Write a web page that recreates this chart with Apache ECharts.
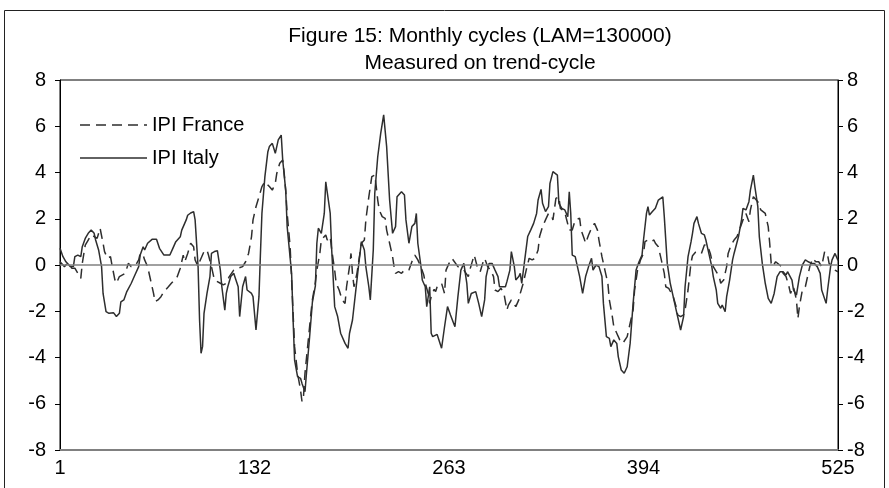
<!DOCTYPE html>
<html>
<head>
<meta charset="utf-8">
<script src="https://cdn.jsdelivr.net/npm/echarts@6/dist/echarts.min.js"></script>
<style>
html,body{margin:0;padding:0;background:#fff;}
#c{width:889px;height:488px;}
</style>
</head>
<body>
<div id="c"></div>
<script>
// ---- data (period index, value) ----
const xTickValues = [1, 132, 263, 394, 525];

const italyT = [1,3,5,8,10,11,13,15,16,18,20,22,24,25,27,29,30,32,34,37,39,41,42,44,46,47,49,51,54,55,57,58,60,63,66,68,71,75,77,79,82,83,86,87,89,91,92,94,95,96,97,98,100,102,103,105,107,108,109,110,112,113,114,116,118,121,122,124,126,127,130,131,133,135,136,137,139,141,142,144,146,148,150,151,153,154,157,158,159,161,163,164,166,167,169,171,173,174,175,177,179,180,181,183,184,186,188,190,193,195,196,198,200,202,204,206,207,209,210,212,213,215,217,219,220,221,223,225,227,228,231,233,234,236,238,240,241,242,244,245,247,248,250,251,252,255,256,258,260,262,264,267,269,271,273,275,276,278,281,283,285,287,288,290,292,294,296,297,298,301,302,304,305,307,308,310,311,312,314,316,318,320,322,323,325,326,328,330,331,333,334,336,337,339,341,343,344,345,346,348,351,353,355,357,359,360,362,364,366,367,369,371,372,374,376,377,379,381,383,385,387,389,391,393,394,396,397,398,400,402,404,405,407,408,410,412,414,416,418,419,421,422,424,426,427,428,430,431,433,435,436,438,440,441,443,444,446,447,449,450,452,454,455,456,458,460,461,463,465,466,468,469,471,472,474,476,478,480,482,484,486,488,490,491,494,495,497,499,501,503,505,507,509,511,513,514,517,518,520,521,523,525];
const italyV = [0.72,0.36,0.14,-0.07,-0.07,0.36,0.43,0.36,0.79,1.15,1.37,1.51,1.37,1.08,0.65,-0.07,-1.23,-2.02,-2.09,-2.06,-2.23,-2.09,-1.59,-1.51,-1.15,-1.15,-0.79,-0.50,-0.07,0.43,0.79,0.65,0.94,1.11,1.11,0.72,0.43,0.43,0.72,1.01,1.22,1.51,1.95,2.15,2.25,2.31,1.95,-0.07,-2.38,-3.82,-3.53,-2.09,-1.23,-0.50,0.50,0.58,0.62,0.58,-0.22,-0.94,-1.95,-1.23,-0.94,-0.50,-0.36,-0.94,-2.23,-0.94,-0.50,-1.08,-1.23,-1.37,-2.81,-1.37,0.50,2.23,3.82,4.90,5.12,5.26,4.83,5.41,5.62,4.54,3.24,1.66,-0.36,-2.38,-4.11,-4.83,-4.90,-5.12,-5.48,-4.68,-3.20,-1.60,-0.90,0.94,1.59,1.37,2.23,3.60,3.53,2.23,0.65,-1.80,-2.23,-2.95,-3.39,-3.60,-2.95,-2.38,-1.23,-0.07,1.01,0.65,-0.07,-0.94,-1.51,0.65,3.10,4.68,5.69,6.49,6.41,5.12,2.81,1.37,1.66,2.95,3.17,3.03,1.95,0.94,1.66,1.80,2.23,0.94,0.00,-0.65,-0.94,-1.80,-0.94,-2.95,-3.10,-3.00,-3.20,-3.60,-2.67,-1.80,-2.16,-2.67,-1.37,-0.22,0.07,-0.79,-1.66,-1.23,-1.15,-1.66,-2.23,-1.51,-0.50,0.07,0.07,-0.22,-0.50,-0.94,-0.86,-0.94,-0.72,-0.22,0.58,-0.07,-0.65,-0.50,-0.36,-0.79,0.22,1.23,1.51,1.80,2.23,2.81,3.27,2.67,2.31,2.52,3.53,4.04,4.11,3.89,2.67,2.45,2.38,2.09,3.17,2.23,0.43,0.36,-0.50,-1.23,-0.50,-0.07,0.29,-0.22,0.00,-0.07,-0.50,-1.66,-3.10,-3.17,-3.53,-3.24,-3.39,-3.96,-4.54,-4.68,-4.40,-3.39,-1.66,-0.22,0.14,0.43,1.08,2.23,2.52,2.16,2.31,2.45,2.81,2.88,2.95,2.09,0.07,-0.79,-1.37,-1.95,-2.52,-2.81,-2.23,-0.94,0.36,1.00,1.37,1.80,2.09,1.80,1.37,1.30,1.08,0.50,-0.07,-0.50,-1.08,-1.66,-1.87,-1.73,-2.02,-1.37,-0.65,0.22,0.50,0.58,1.23,1.95,2.45,2.38,2.74,3.24,3.89,3.39,2.52,1.23,0.07,-0.79,-1.44,-1.66,-1.23,-0.50,-0.29,-0.29,-0.43,-0.29,-0.65,-1.08,-1.30,-0.50,0.00,0.22,0.14,0.07,0.07,-0.07,-0.36,-1.08,-1.66,-1.08,-0.07,0.22,0.50,0.20];

const franceT = [1,4,6,9,11,13,15,16,18,20,22,23,24,26,28,30,31,33,35,36,38,39,41,42,45,47,49,50,52,54,55,57,58,60,62,64,65,67,69,71,74,76,78,80,82,84,85,87,89,91,92,94,95,98,100,101,103,105,107,109,111,113,115,118,121,124,126,128,130,131,133,135,137,139,140,142,144,146,147,149,151,152,153,154,156,157,158,159,161,163,164,165,166,168,170,171,173,174,176,177,180,181,183,184,186,187,189,191,193,194,196,197,198,199,201,203,204,206,207,209,211,213,214,215,216,218,220,221,223,225,226,227,229,231,233,236,238,240,242,244,246,247,249,250,251,253,254,255,258,260,261,263,265,266,269,270,273,274,276,277,279,280,282,284,286,287,289,291,293,294,296,298,300,302,303,305,308,310,311,313,315,317,319,321,323,324,326,328,330,332,333,335,337,338,341,342,344,346,348,349,351,352,354,355,357,359,361,363,364,366,368,370,371,373,374,376,378,380,381,383,385,387,388,390,392,394,395,397,399,401,402,404,406,408,409,411,412,414,416,417,419,421,422,424,426,427,429,431,433,435,437,439,441,443,445,446,448,450,451,453,455,457,459,461,463,465,466,468,469,471,473,474,476,478,479,480,481,483,484,487,488,490,492,493,495,497,498,499,501,503,504,506,508,510,512,514,516,518,519,521,523,525];
const franceV = [0.14,-0.07,0.07,-0.14,-0.14,-0.36,-0.58,0.07,0.86,1.08,1.30,1.37,1.23,1.15,1.59,0.94,0.58,0.29,0.36,0.00,-0.65,-0.79,-0.50,-0.43,-0.36,0.07,-0.07,-0.07,0.00,0.22,0.50,0.43,0.22,-0.07,-0.65,-1.23,-1.59,-1.51,-1.37,-1.15,-0.94,-0.79,-0.65,-0.50,-0.14,0.43,0.14,0.50,0.94,0.79,0.22,-0.07,0.14,0.58,0.65,0.43,-0.07,-0.65,-0.72,-0.79,-0.86,-0.79,-0.50,-0.22,-0.14,-0.07,0.14,0.50,1.23,1.95,2.52,2.95,3.39,3.60,3.53,3.39,3.24,3.53,3.96,4.40,4.54,3.96,3.24,2.23,0.79,-0.65,-2.09,-3.53,-4.68,-5.41,-5.91,-5.69,-4.68,-3.39,-2.09,-1.50,-0.75,-0.22,0.50,1.08,1.30,1.08,1.23,0.65,-0.22,-0.79,-1.08,-1.51,-1.66,-0.94,-0.07,0.50,-0.36,-0.94,-0.36,0.50,0.94,1.08,1.95,2.95,3.82,3.89,3.39,2.81,2.38,2.09,2.02,1.51,0.94,0.36,-0.07,-0.36,-0.29,-0.36,-0.22,-0.22,0.14,0.43,0.22,-0.07,-0.43,-0.79,-1.23,-1.66,-1.37,-1.05,-1.15,-0.94,-0.79,-1.23,-0.22,0.07,0.29,0.22,-0.07,-0.14,-0.22,-0.29,-0.50,-0.22,0.22,0.43,-0.07,-0.29,0.14,0.29,-0.07,-0.22,-0.50,-1.08,-1.15,-1.01,-1.23,-1.95,-1.73,-1.51,-1.80,-1.51,-1.23,-0.79,-0.22,0.29,0.22,0.29,0.65,1.23,1.66,1.95,2.23,2.16,1.95,2.88,2.95,2.45,2.30,2.02,1.51,1.51,1.95,2.02,2.02,1.51,1.15,0.94,1.30,1.59,1.80,1.51,1.08,0.36,-0.22,-0.79,-1.51,-2.23,-2.67,-2.95,-3.24,-3.39,-3.46,-3.10,-2.52,-1.95,-1.08,-0.22,0.22,0.50,1.01,1.08,1.01,1.08,0.94,0.79,0.22,-0.36,-0.94,-1.01,-1.08,-1.37,-1.80,-2.16,-2.23,-2.16,-1.95,-1.08,0.10,0.40,0.55,0.58,0.50,0.86,0.86,0.50,-0.07,-0.29,-0.50,-0.79,-0.65,-0.07,0.50,0.86,1.08,1.23,1.59,1.95,2.23,1.87,2.38,2.95,3.03,2.74,2.38,2.31,2.23,1.66,0.94,0.07,-0.07,0.14,0.07,-0.07,-0.36,-0.50,-0.94,-1.23,-0.94,-1.51,-2.31,-1.80,-1.08,-0.94,-0.65,-0.07,0.29,0.14,0.14,-0.07,0.58,0.43,0.07,-0.07,-0.22,-0.30];

const seriesNames = ['IPI France', 'IPI Italy'];
const titleText = 'Figure 15: Monthly cycles (LAM=130000)';
const subtitleText = 'Measured on trend-cycle';

// ---- build ----
const zip = (t, v) => t.map((x, i) => [x, v[i]]);
const FONT = '"Liberation Sans", Arial, Helvetica, sans-serif';
const LINE = '#2e2e2e';
const DASH = [10, 6];

const chart = echarts.init(document.getElementById('c'), null, {renderer: 'canvas'});
const yAxisBase = {
  type: 'value', min: -8, max: 8, interval: 2,
  axisLine: {show: true, lineStyle: {color: '#000', width: 1}},
  axisTick: {show: true, length: 5, lineStyle: {color: '#000'}},
  splitLine: {show: false}
};
const legendGraphics = [];
seriesNames.forEach((name, i) => {
  const y = 125 + i * 33;
  legendGraphics.push({
    type: 'line', silent: true, z: 10,
    shape: {x1: 80, y1: y, x2: 147, y2: y},
    style: {stroke: LINE, lineWidth: 1.5, lineDash: i === 0 ? DASH : null}
  });
  legendGraphics.push({
    type: 'text', silent: true, z: 10, x: 152, y: y,
    style: {text: name, font: '20px ' + FONT, fill: '#000', textVerticalAlign: 'middle', textAlign: 'left'}
  });
});

chart.setOption({
  animation: false,
  backgroundColor: '#fff',
  title: [
    {text: titleText, left: 475, top: 21, textAlign: 'center',
     textStyle: {fontSize: 21, fontWeight: 'normal', color: '#000', fontFamily: FONT}},
    {text: subtitleText, left: 475, top: 48, textAlign: 'center',
     textStyle: {fontSize: 21, fontWeight: 'normal', color: '#000', fontFamily: FONT}}
  ],
  graphic: [{
    type: 'rect', silent: true, z: -1,
    shape: {x: 4.5, y: 10.5, width: 880, height: 482},
    style: {fill: null, stroke: '#222', lineWidth: 1}
  }].concat(legendGraphics),
  grid: {left: 60, right: 51, top: 80, bottom: 38, show: true, borderColor: '#000', borderWidth: 1, backgroundColor: '#fff'},
  xAxis: {
    type: 'value', min: 1, max: 525,
    axisLine: {show: true, onZero: false, lineStyle: {color: '#808080', width: 2}},
    axisTick: {show: false},
    splitLine: {show: false},
    axisLabel: {customValues: xTickValues, color: '#000', fontSize: 20, fontFamily: FONT, margin: 8}
  },
  yAxis: [
    Object.assign({}, yAxisBase, {position: 'left',
      axisLabel: {color: '#000', fontSize: 20, fontFamily: FONT, margin: 14}}),
    Object.assign({}, yAxisBase, {position: 'right',
      axisLabel: {color: '#000', fontSize: 20, fontFamily: FONT, margin: 9}})
  ],
  series: [
    {
      name: seriesNames[0], type: 'line', data: zip(franceT, franceV),
      showSymbol: false, symbol: 'none', z: 3,
      lineStyle: {color: LINE, width: 1.5, type: DASH},
      markLine: {
        silent: true, symbol: 'none', label: {show: false},
        lineStyle: {color: '#808080', width: 1.5, type: 'solid'},
        data: [{yAxis: 0}]
      }
    },
    {
      name: seriesNames[1], type: 'line', data: zip(italyT, italyV),
      showSymbol: false, symbol: 'none', z: 4,
      lineStyle: {color: LINE, width: 1.5, type: 'solid'}
    }
  ]
});
</script>
</body>
</html>
